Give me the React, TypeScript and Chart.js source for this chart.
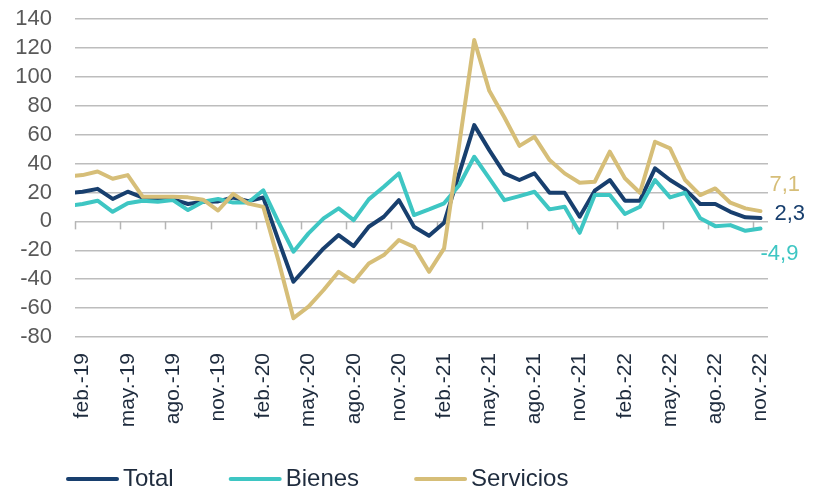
import React, { useEffect, useRef } from 'react';
import { Chart, registerables } from 'chart.js';

Chart.register(...registerables);

// Months (first one, ene.-19, lies just outside the plotted range and is clipped)
const months = [
  'ene.-19', 'feb.-19', 'mar.-19', 'abr.-19', 'may.-19', 'jun.-19', 'jul.-19', 'ago.-19', 'sep.-19', 'oct.-19', 'nov.-19', 'dic.-19',
  'ene.-20', 'feb.-20', 'mar.-20', 'abr.-20', 'may.-20', 'jun.-20', 'jul.-20', 'ago.-20', 'sep.-20', 'oct.-20', 'nov.-20', 'dic.-20',
  'ene.-21', 'feb.-21', 'mar.-21', 'abr.-21', 'may.-21', 'jun.-21', 'jul.-21', 'ago.-21', 'sep.-21', 'oct.-21', 'nov.-21', 'dic.-21',
  'ene.-22', 'feb.-22', 'mar.-22', 'abr.-22', 'may.-22', 'jun.-22', 'jul.-22', 'ago.-22', 'sep.-22', 'oct.-22', 'nov.-22',
];

const total = [
  19.5, 20.5, 22.5, 15.5, 20.5, 16.5, 15.5, 15.2, 12, 13.5, 13.8, 16.5, 14, 16.5,
  -13, -41.8, -30.2, -18.7, -9.5, -17.1, -3.7, 3.2, 14.7, -3.7, -10, -1,
  33, 66.6, 49.3, 33.2, 28.6, 33.2, 19.8, 19.8, 3.2, 21.2, 28.6, 14.3, 14.3,
  36.7, 28.6, 22.1, 12, 12, 6.6, 2.8, 2.3,
];

const bienes = [
  10.5, 12, 14.3, 6.6, 12.5, 14.3, 13.6, 14.7, 7.8, 13.6, 15.5, 13, 13, 21.5,
  -0.3, -21, -8.3, 2.1, 9, 0.9, 15.2, 23.9, 33.2, 4.4, 8.3, 12.5,
  25, 44.7, 29.8, 14.7, 17.5, 20.5, 8.3, 10.1, -7.9, 18.2, 18.2, 5.1, 10.1,
  28.6, 16.6, 19.8, 2.1, -3.3, -2.6, -6.5, -4.9,
];

const servicios = [
  31, 32, 34.5, 29.5, 32, 17, 17, 17, 16.6, 15, 7.5, 19, 12.3, 10,
  -27, -67, -59, -47.5, -34.9, -41.8, -29.1, -23.3, -12.9, -17.6, -34.9, -18.7,
  53, 125.4, 90.3, 72, 52.2, 58.5, 42.4, 33.2, 26.7, 27.4, 48.2, 29.8, 19.8,
  55.1, 50.5, 28.6, 18.2, 22.8, 12.9, 9, 7.1,
];

const seriesNames = ['Total', 'Bienes', 'Servicios'];
const yTicks = { min: -80, max: 140, step: 20 };

const FONT = "'Liberation Sans', Arial, Helvetica, sans-serif";
const COLORS = ['#183F6E', '#3EC6C3', '#D6BE78'];

const zeroTicksPlugin = {
  id: 'zeroTicks',
  beforeDatasetsDraw(chart: any) {
    const xs = chart.scales.x;
    const ys = chart.scales.y;
    const ctx = chart.ctx;
    const y0 = ys.getPixelForValue(0);
    const half = (xs.getPixelForValue(2) - xs.getPixelForValue(1)) / 2;
    ctx.save();
    ctx.strokeStyle = '#b5b5b5';
    ctx.lineWidth = 1.5;
    for (let v = 1; v < months.length; v += 3) {
      const px = Math.round(xs.getPixelForValue(v) - half) + 0.5;
      ctx.beginPath();
      ctx.moveTo(px, y0);
      ctx.lineTo(px, y0 + 8);
      ctx.stroke();
    }
    ctx.restore();
  },
};

const endLabelOffsets = [
  { dx: 14, dy: -4 },
  { dx: 0, dy: 25 },
  { dx: 9, dy: -26 },
];

const endLabelsPlugin = {
  id: 'endLabels',
  afterDatasetsDraw(chart: any) {
    const ctx = chart.ctx;
    ctx.save();
    ctx.font = `22px ${FONT}`;
    ctx.textAlign = 'left';
    ctx.textBaseline = 'middle';
    chart.data.datasets.forEach((ds: any, i: number) => {
      const meta = chart.getDatasetMeta(i);
      const pt = meta.data[meta.data.length - 1];
      const v = ds.data[ds.data.length - 1];
      const txt = v.toFixed(1).replace('.', ',');
      const off = endLabelOffsets[i];
      ctx.fillStyle = ds.borderColor;
      ctx.fillText(txt, pt.x + off.dx, pt.y + off.dy);
    });
    ctx.restore();
  },
};

const legendPlugin = {
  id: 'bottomLegend',
  afterDraw(chart: any) {
    const ctx = chart.ctx;
    ctx.save();
    ctx.font = `24px ${FONT}`;
    ctx.textBaseline = 'middle';
    ctx.textAlign = 'left';
    let x = 66;
    const y = 479;
    chart.data.datasets.forEach((ds: any) => {
      ctx.strokeStyle = ds.borderColor;
      ctx.lineWidth = 4;
      ctx.lineCap = 'round';
      ctx.beginPath();
      ctx.moveTo(x + 2, y);
      ctx.lineTo(x + 51, y);
      ctx.stroke();
      ctx.fillStyle = '#1f2c3e';
      ctx.fillText(ds.label, x + 57, y);
      x += 57 + ctx.measureText(ds.label).width + 55;
    });
    ctx.restore();
  },
};

export default function App() {
  const ref = useRef<HTMLCanvasElement | null>(null);

  useEffect(() => {
    if (!ref.current) return;
    const data = [total, bienes, servicios];
    const chart = new Chart(ref.current, {
      type: 'line',
      data: {
        labels: months,
        datasets: seriesNames.map((name, i) => ({
          label: name,
          data: data[i],
          borderColor: COLORS[i],
          backgroundColor: COLORS[i],
          borderWidth: 4,
          pointRadius: 0,
          tension: 0,
          borderJoinStyle: 'round' as const,
          borderCapStyle: 'round' as const,
          order: 2 - i,
        })),
      },
      options: {
        responsive: false,
        animation: false,
        devicePixelRatio: 1,
        layout: { padding: { top: 19, right: 47, bottom: 47, left: 0 } },
        plugins: {
          legend: { display: false },
          tooltip: { enabled: false },
        },
        scales: {
          x: {
            type: 'category',
            min: 1,
            offset: true,
            grid: { display: false },
            border: { display: false },
            ticks: {
              autoSkip: false,
              maxRotation: 90,
              minRotation: 90,
              padding: 8,
              color: '#1f2c3e',
              font: { family: FONT, size: 21 },
              callback: (value: any) => ((value - 1) % 3 === 0 ? months[value] : ''),
            },
            afterFit: (s: any) => {
              s.height = 110;
            },
          },
          y: {
            min: yTicks.min,
            max: yTicks.max,
            border: { display: false },
            grid: {
              color: '#bdbdbd',
              lineWidth: 1.5,
              drawTicks: true,
              tickLength: 20,
              tickColor: 'rgba(0,0,0,0)',
            },
            ticks: {
              stepSize: yTicks.step,
              autoSkip: false,
              padding: 3,
              color: '#595959',
              font: { family: FONT, size: 22 },
            },
            afterFit: (s: any) => {
              s.width = 75;
            },
          },
        },
      },
      plugins: [zeroTicksPlugin, endLabelsPlugin, legendPlugin],
    } as any);
    return () => chart.destroy();
  }, []);

  return (
    <div style={{ position: 'fixed', left: 0, top: 0, width: 815, height: 494, background: '#fff' }}>
      <canvas ref={ref} width={815} height={494} style={{ display: 'block', width: 815, height: 494 }} />
    </div>
  );
}
